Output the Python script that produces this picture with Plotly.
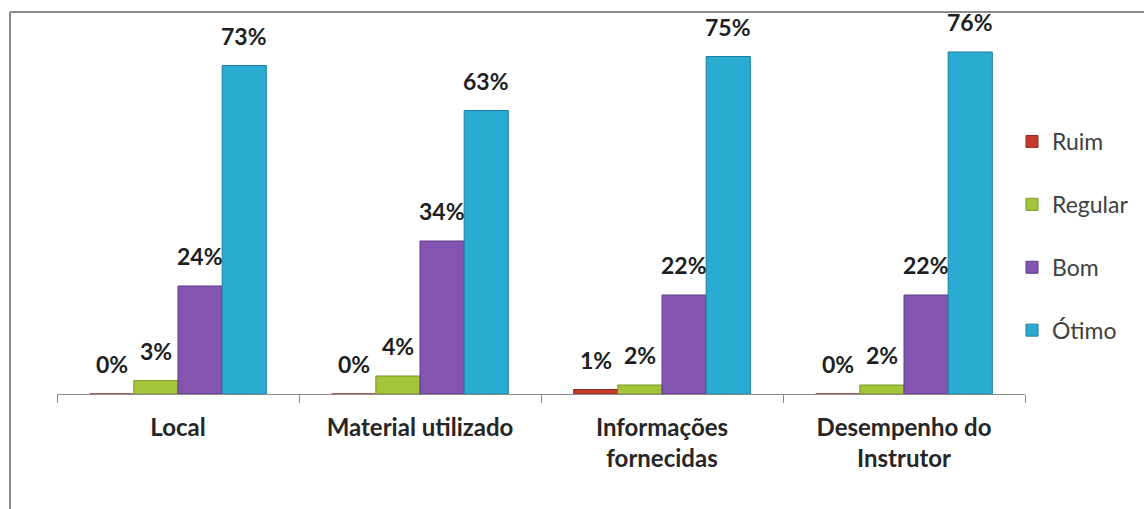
import plotly.graph_objects as go

# Survey results per evaluated item (percent of answers)
categories = ["Local", "Material utilizado", "Informações<br>fornecidas", "Desempenho do<br>Instrutor"]
series_names = ["Ruim", "Regular", "Bom", "Ótimo"]
ruim = [0, 0, 1, 0]
regular = [3, 4, 2, 2]
bom = [24, 34, 22, 22]
otimo = [73, 63, 75, 76]

series_values = [ruim, regular, bom, otimo]
fill_colors = ["#C0392B", "#A4C43A", "#8455B0", "#2AACD2"]
edge_colors = ["#8E2A20", "#7C9628", "#5E3A85", "#1C7F9E"]

W, H = 1144, 509
M_L, M_R, M_T, M_B = 57, 119, 34, 115
Y_MAX = 80
BARGAP = 0.27

plot_w = W - M_L - M_R
bar_w = plot_w / len(categories) * (1 - BARGAP) / len(series_names)

fig = go.Figure()
for i, (name, vals) in enumerate(zip(series_names, series_values)):
    fig.add_trace(go.Bar(
        x=categories,
        y=vals,
        name=name,
        legendgroup=name,
        marker=dict(color=fill_colors[i], line=dict(color=edge_colors[i], width=1)),
        hoverinfo="x+y+name",
    ))
    # value labels above each bar
    for cat, v in zip(categories, vals):
        fig.add_annotation(
            x=cat, y=v, xref="x", yref="y",
            text=f"{v}%", showarrow=False,
            xshift=(i - (len(series_names) - 1) / 2) * bar_w,
            yshift=30, yanchor="middle",
            font=dict(family="Lato", size=23, color="#1E1E1E", weight="bold"),
        )

# chart frame (top and left edges)
def px_x(p):
    return (p - M_L) / plot_w

def px_y(p):
    return (H - M_B - p) / (H - M_T - M_B)

frame = dict(color="#8A8A8A", width=2)
fig.add_shape(type="line", xref="paper", yref="paper",
              x0=px_x(10), x1=px_x(W), y0=px_y(12), y1=px_y(12), line=frame)
fig.add_shape(type="line", xref="paper", yref="paper",
              x0=px_x(10), x1=px_x(10), y0=px_y(12), y1=px_y(H), line=frame)

fig.update_layout(
    width=W, height=H,
    margin=dict(l=M_L, r=M_R, t=M_T, b=M_B, autoexpand=False),
    paper_bgcolor="white", plot_bgcolor="white",
    barmode="group", bargap=BARGAP, bargroupgap=0,
    font=dict(family="Lato", color="#404040"),
    showlegend=True,
    legend=dict(
        x=px_x(1012), y=px_y(120), xanchor="left", yanchor="top",
        font=dict(family="Lato", size=23, color="#404040"),
        tracegroupgap=30, itemwidth=30,
        bgcolor="rgba(0,0,0,0)",
    ),
    xaxis=dict(
        showline=True, linecolor="#8C8C8C", linewidth=1,
        ticks="outside", tickson="boundaries", ticklen=8, tickcolor="#8C8C8C",
        ticklabelstandoff=12,
        tickfont=dict(family="Lato", size=24, color="#262626", weight="bold"),
        showgrid=False,
    ),
    yaxis=dict(visible=False, range=[0, Y_MAX]),
)

fig.write_html("out.html")
